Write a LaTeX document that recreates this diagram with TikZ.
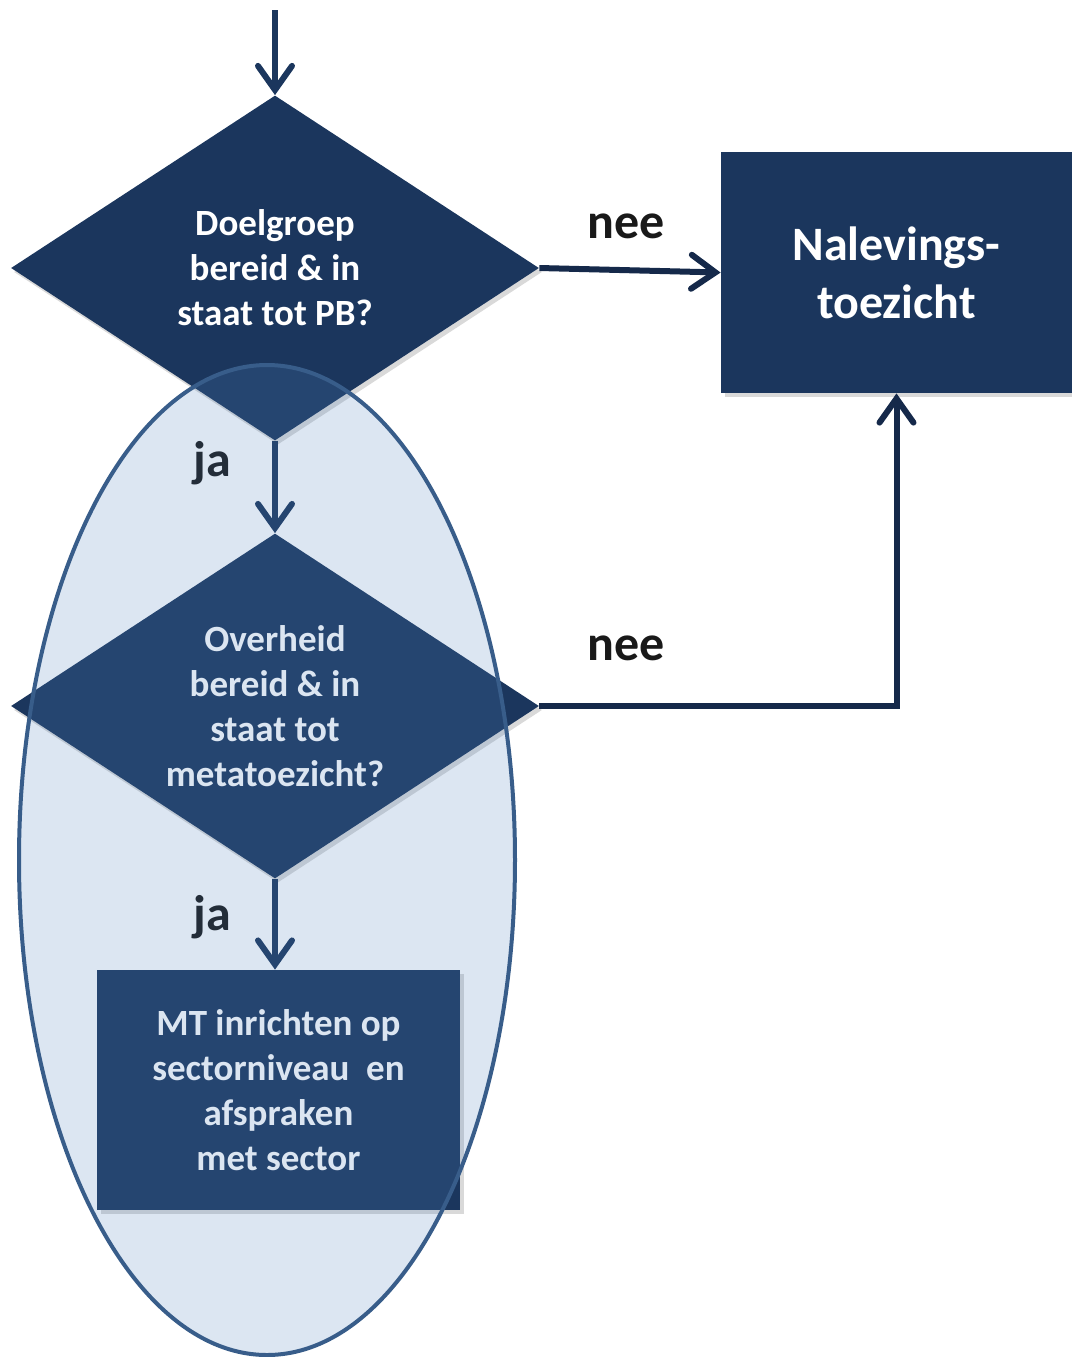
\documentclass[tikz,border=0pt]{standalone}
\usepackage{fontspec}
\setmainfont{Carlito}
\usepackage{tikz}
\usepackage{xcolor}
\usetikzlibrary{shapes.geometric,arrows.meta,shadows}
\definecolor{navy}{HTML}{1B365D}
\definecolor{darknavy}{HTML}{15294A}
\definecolor{zonefill}{HTML}{4F81BD}
\definecolor{zoneline}{HTML}{385D8A}
\tikzset{
    decision-box/.style = {diamond, shape aspect=1.53, fill=navy, text=white, font=\fontsize{18.5}{22.5}\selectfont\bfseries, align=center, inner sep=0pt, minimum width=264pt, minimum height=172.5pt, drop shadow={shadow xshift=1.5pt, shadow yshift=-2pt, opacity=0.3}},
    action-box/.style = {rectangle, fill=navy, text=white, align=center, inner sep=0pt, drop shadow={shadow xshift=2pt, shadow yshift=-2pt, opacity=0.3}},
    answer-label/.style = {font=\fontsize{25}{30}\selectfont\bfseries, text=black!90},
    flow-line/.style = {draw=#1, line width=3pt, -{Straight Barb[length=12pt,width=17pt,line cap=round]}},
    flow-line/.default = navy,
}

\begin{document}
\begin{tikzpicture}[x=0.5pt, y=-0.5pt]
\useasboundingbox (0,0) rectangle (1072,1357);
\coordinate (start) at (275,10);
\node [decision-box] (doelgroep) at (275,268) {Doelgroep\\bereid \& in\\staat tot PB?};
\node [decision-box] (overheid) at (275,706) {Overheid\\bereid \& in\\staat tot\\metatoezicht?};
\node [action-box, minimum width=175.5pt, minimum height=120.5pt, font=\fontsize{24}{29}\selectfont\bfseries] (naleving) at (896.5,272.5) {Nalevings-\\toezicht};
\node [action-box, minimum width=181.5pt, minimum height=120pt, font=\fontsize{18.5}{22.5}\selectfont\bfseries] (inrichten) at (278.5,1090) {MT inrichten op\\sectorniveau~ en\\afspraken\\met sector};

\draw [flow-line] (start) -- (doelgroep.north);
\draw [flow-line=darknavy] (doelgroep.east) -- (naleving.west);
\draw [flow-line] (doelgroep.south) -- (overheid.north);
\draw [flow-line=darknavy] (overheid.east) -| (naleving.south);
\draw [flow-line] (overheid.south) -- (overheid.south |- inrichten.north);

\node [answer-label] (nee-top) at (626,226) {nee};
\node [answer-label] (nee-bottom) at (626,648) {nee};
\node [answer-label] (ja-top) at (212,463) {ja};
\node [answer-label] (ja-bottom) at (212,917) {ja};

\node [ellipse, draw=zoneline, line width=2pt, fill=zonefill, fill opacity=0.2, inner sep=0pt, minimum width=248pt, minimum height=495pt] (zone) at (267,860) {};
\end{tikzpicture}
\end{document}
